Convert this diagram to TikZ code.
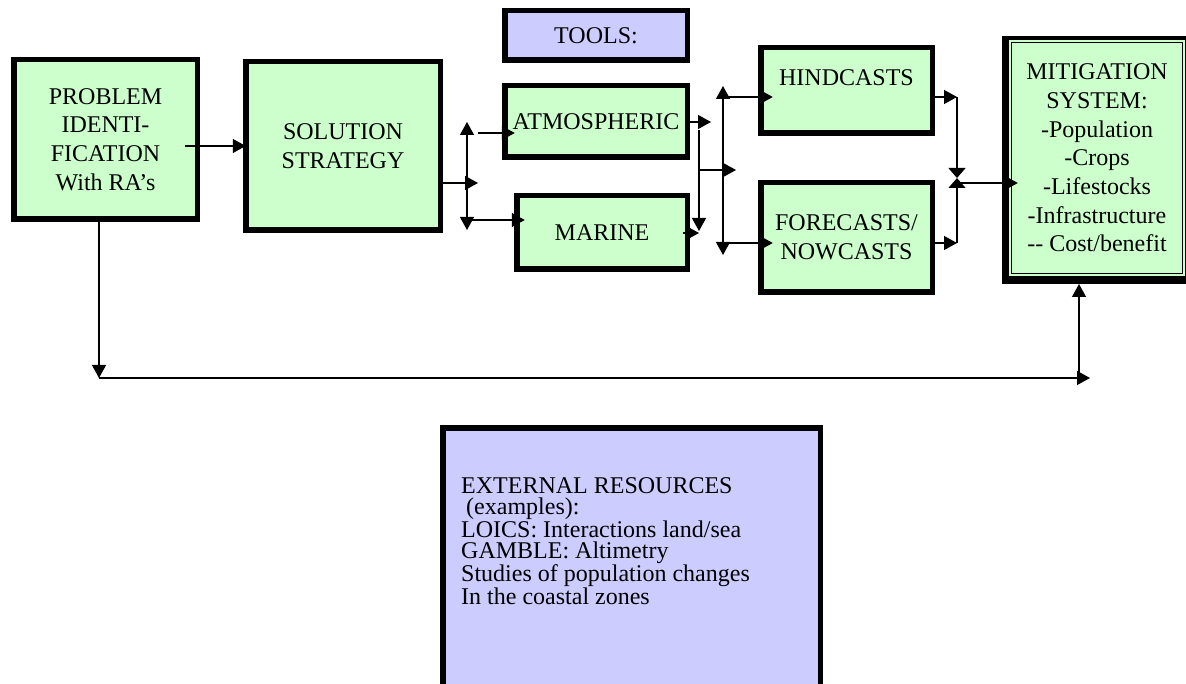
\documentclass[tikz,border=0pt]{standalone}
\usepackage{fontspec}
\setmainfont{Liberation Serif}
\usetikzlibrary{arrows.meta}
\definecolor{boxgreen}{HTML}{CCFFCC}
\definecolor{boxblue}{HTML}{CCCCFF}
\tikzset{
  gbox/.style={draw=black, line width=5.5pt, fill=boxgreen, inner sep=0pt, outer sep=0pt, align=center, font=\fontsize{24}{28.7}\selectfont},
  bbox/.style={gbox, fill=boxblue},
  conn/.style={line width=1.3pt, -{Triangle[length=13pt,width=14pt]}},
  conntwo/.style={line width=1.3pt, {Triangle[length=13pt,width=14pt]}-{Triangle[length=13pt,width=14pt]}},
  connsmall/.style={line width=1.3pt, -{Triangle[length=10pt,width=17pt]}},
}
\begin{document}
\begin{tikzpicture}[x=1pt,y=-1pt]
\useasboundingbox (0,0) rectangle (1186,684);

% boxes
\node[gbox, minimum width=183.5pt, minimum height=159.5pt] (prob) at (105.5,139.5) {PROBLEM\\IDENTI-\\FICATION\\With RA’s};
\node[gbox, minimum width=194.5pt, minimum height=168.5pt] (sol) at (343,146) {SOLUTION\\STRATEGY};
\node[bbox, minimum width=182.5pt, minimum height=49.5pt] (tools) at (596,35.5) {TOOLS:};
\node[gbox, minimum width=182.5pt, minimum height=71.5pt] (atm) at (596,121.5) {ATMOSPHERIC};
\node[gbox, minimum width=170.5pt, minimum height=73.5pt] (mar) at (602,232.5) {MARINE};
\node[gbox, minimum width=171.5pt, minimum height=85.5pt, text height=16pt, text depth=25pt] (hind) at (846.5,90.5) {HINDCASTS};
\node[gbox, minimum width=171.5pt, minimum height=109.5pt] (fore) at (846.5,237.5) {FORECASTS/\\NOWCASTS};

% mitigation system box
\fill[black] (1002,36) rectangle (1192,284);
\node[fill=boxgreen, draw=black, line width=0.8pt, double=boxgreen, double distance=2pt,
      inner sep=0pt, outer sep=0pt, align=center, font=\fontsize{24}{28.7}\selectfont,
      minimum width=174.4pt, minimum height=234.4pt] (mit) at (1097,158)
  {MITIGATION\\SYSTEM:\\-Population\\-Crops\\-Lifestocks\\-Infrastructure\\{-}{-} Cost/benefit};

% external resources
\node[bbox, minimum width=377.5pt, minimum height=264.5pt] (ext) at (631.5,560) {};
\node[anchor=north west, inner sep=0pt, align=left, font=\fontsize{24}{21.4}\selectfont] (exttext) at (461,477)
  {EXTERNAL RESOURCES\\\hspace{5pt}(examples):\\LOICS: Interactions land/sea\\GAMBLE: Altimetry\\Studies of population changes\\In the coastal zones};

% connectors
\coordinate (p1) at (185,146);
\draw[conn] (p1) -- (p1 -| sol.west);

\coordinate (s1) at (478,183);
\draw[conn] (sol.east |- s1) -- (s1);
\coordinate (v1t) at (467,122);
\coordinate (v1b) at (467,230);
\draw[conntwo] (v1t) -- (v1b);
\coordinate (a1) at (478,133);
\draw[conn] (a1) -- ([xshift=10pt]atm.west |- a1);
\coordinate (m1) at (467,220);
\draw[conn] (m1) -- ([xshift=8pt]mar.west |- m1);

\coordinate (a2) at (711,122);
\draw[conn] (atm.east |- a2) -- (a2);
\coordinate (j1t) at (699,130);
\coordinate (j1b) at (699,231);
\draw[conn] (j1t) -- (j1b);
\coordinate (m2) at (699,233);
\draw[conn] ([xshift=-4pt]mar.east |- m2) -- (m2);
\coordinate (j1m) at (699,170);
\coordinate (j2m) at (736,170);
\draw[conn] (j1m) -- (j2m);

\coordinate (v2t) at (723,86);
\coordinate (v2b) at (723,255);
\draw[conntwo] (v2t) -- (v2b);
\coordinate (h1) at (723,97);
\draw[conn] (h1) -- ([xshift=12pt]hind.west |- h1);
\coordinate (f1) at (723,243);
\draw[conn] (f1) -- ([xshift=12pt]fore.west |- f1);

\coordinate (h2) at (957,97);
\coordinate (f2) at (957,243);
\coordinate (bt) at (957,178);
\draw[conn] (hind.east |- h2) -- (h2);
\draw[conn] (fore.east |- f2) -- (f2);
\draw[connsmall] (h2) -- (bt);
\draw[connsmall] (f2) -- (bt);
\coordinate (o1) at (957,183);
\draw[conn] (o1) -- ([xshift=8pt]mit.west |- o1);

\coordinate (d1) at (99,378);
\coordinate (d2) at (1090,378);
\coordinate (u1) at (1079,378);
\coordinate (u2) at (1079,284);
\draw[conn] (prob.south -| d1) -- (d1);
\draw[conn] (d1) -- (d2);
\draw[conn] (u1) -- (u2);
\end{tikzpicture}
\end{document}
